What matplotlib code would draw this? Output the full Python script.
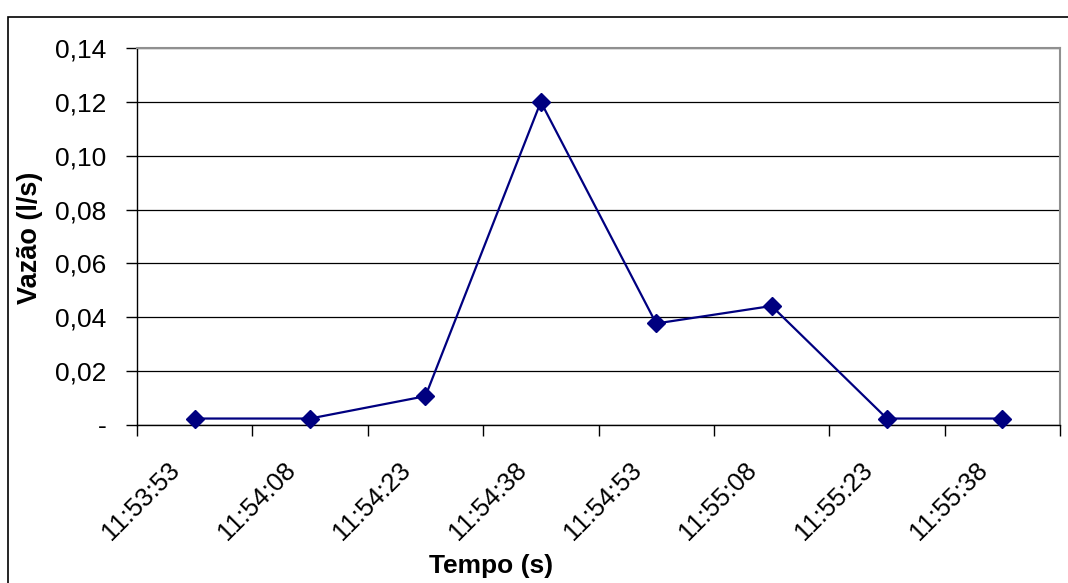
import matplotlib
matplotlib.use("Agg")
import matplotlib.pyplot as plt
import numpy as np
from matplotlib.patches import Rectangle
from matplotlib.transforms import ScaledTranslation

plt.rcParams['font.family'] = ['Liberation Sans', 'DejaVu Sans']

tempos = ['11:53:53', '11:54:08', '11:54:23', '11:54:38',
          '11:54:53', '11:55:08', '11:55:23', '11:55:38']
vazao = [0.0024, 0.0024, 0.0107, 0.120, 0.0377, 0.0442, 0.0024, 0.0024]
yticks = [0, 0.02, 0.04, 0.06, 0.08, 0.10, 0.12, 0.14]
ylabels = ['-', '0,02', '0,04', '0,06', '0,08', '0,10', '0,12', '0,14']

fig = plt.figure(figsize=(10.68, 5.83), dpi=100)
ax = fig.add_axes([137/1068, 1 - 425/583, (1060-137)/1068, (425-48)/583])

x = np.arange(len(tempos))
ax.plot(x, vazao, color='#000080', lw=1.6, marker='D', ms=9.5, zorder=3, clip_on=False)

ax.set_xlim(-0.5, len(tempos) - 0.5)
ax.set_ylim(0, 0.14)
ax.set_yticks(yticks)
ax.set_yticklabels(ylabels, fontsize=19)
ax.yaxis.grid(True, color='black', lw=0.9)
ax.set_axisbelow(True)

# ticks nas divisas das categorias
ax.set_xticks(np.arange(-0.5, len(tempos)))
ax.set_xticklabels([])
ax.tick_params(axis='x', which='major', length=8, width=1, direction='out')
ax.tick_params(axis='y', length=8, width=1, direction='out', pad=14)

# rótulos das categorias, girados 45 graus
desloc = ax.get_xaxis_transform() + ScaledTranslation(-0.27, -0.33, fig.dpi_scale_trans)
for i, t in enumerate(tempos):
    ax.text(x[i], 0, t, transform=desloc, rotation=45, ha='right', va='top',
            rotation_mode='anchor', fontsize=18.5)

for s in ['top', 'right']:
    ax.spines[s].set_color('#909090')
    ax.spines[s].set_linewidth(1.5)
for s in ['left', 'bottom']:
    ax.spines[s].set_color('black')
    ax.spines[s].set_linewidth(1)

fig.text(30/1068, 1 - 238/583, 'Vazão (l/s)', rotation=90, fontsize=19.5,
         fontweight='bold', ha='center', va='center')
fig.text(491/1068, 1 - 566/583, 'Tempo (s)', fontsize=19,
         fontweight='bold', ha='center', va='center')

# borda externa do gráfico
fig.patches.append(Rectangle((8/1068, -0.1), 1.2, 1 - 17/583 + 0.1,
                             transform=fig.transFigure, fill=False,
                             edgecolor='black', lw=1.2))

plt.savefig('out.png', dpi=100, facecolor='white')
